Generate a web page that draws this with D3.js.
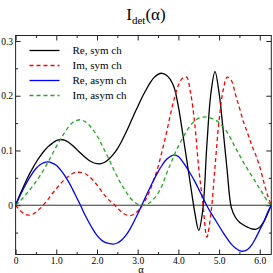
<!DOCTYPE html>
<html>
<head>
<meta charset="utf-8">
<script src="https://cdn.jsdelivr.net/npm/d3@7"></script>
<style>
  body { margin: 0; background: #fff; }
  svg { display: block; }
  svg text { font-family: "Liberation Serif", "DejaVu Serif", serif !important; }
</style>
</head>
<body>
<svg id="chart" width="273" height="273"></svg>
<script>
// alpha grid (0 .. 2*pi)
var alpha = [0, 0.1, 0.2, 0.3, 0.4, 0.5, 0.6, 0.7, 0.8, 0.9,
  1.0, 1.1, 1.2, 1.3, 1.4, 1.5, 1.6, 1.7, 1.8, 1.9,
  2.0, 2.1, 2.2, 2.3, 2.4, 2.5, 2.6, 2.7, 2.8, 2.9,
  3.0, 3.1, 3.2, 3.3, 3.4, 3.5, 3.6, 3.7, 3.8, 3.9,
  4.0, 4.1, 4.2, 4.3, 4.4, 4.5, 4.6, 4.7, 4.8, 4.9,
  5.0, 5.1, 5.2, 5.3, 5.4, 5.5, 5.6, 5.7, 5.8, 5.9,
  6.0, 6.1, 6.2, 6.283];

var reSym = [0, 0.018, 0.035, 0.051, 0.065, 0.078, 0.089, 0.099, 0.107, 0.113,
  0.118, 0.12, 0.119, 0.115, 0.109, 0.102, 0.095, 0.088, 0.082, 0.078,
  0.076, 0.076, 0.079, 0.085, 0.093, 0.103, 0.116, 0.131, 0.147, 0.164,
  0.18, 0.196, 0.21, 0.223, 0.233, 0.239, 0.241, 0.238, 0.23, 0.214,
  0.18, 0.134, 0.085, 0.036, -0.012, -0.046, -0.008, 0.11, 0.205, 0.244,
  0.205, 0.137, 0.062, -0.004, -0.022, -0.031, -0.036, -0.04, -0.043, -0.044,
  -0.04, -0.03, -0.014, 0];

var imSym = [0, -0.009, -0.015, -0.018, -0.017, -0.013, -0.006, 0.002, 0.011, 0.021,
  0.03, 0.039, 0.047, 0.053, 0.058, 0.06, 0.06, 0.058, 0.053, 0.046,
  0.037, 0.027, 0.017, 0.009, 0.003, -0.005, -0.012, -0.017, -0.019, -0.017,
  -0.011, -0.002, 0.011, 0.027, 0.047, 0.07, 0.099, 0.13, 0.164, 0.195,
  0.219, 0.232, 0.234, 0.205, 0.15, 0.068, 0.005, -0.058, -0.015, 0.07,
  0.155, 0.21, 0.234, 0.228, 0.203, 0.178, 0.152, 0.132, 0.11, 0.092,
  0.07, 0.042, 0.016, 0];

var reAsym = [0, 0.016, 0.031, 0.045, 0.057, 0.067, 0.074, 0.078, 0.079, 0.077,
  0.073, 0.065, 0.055, 0.043, 0.029, 0.014, -0.001, -0.017, -0.031, -0.044,
  -0.055, -0.063, -0.068, -0.07, -0.071, -0.069, -0.064, -0.056, -0.045, -0.031,
  -0.016, 0, 0.016, 0.032, 0.047, 0.061, 0.073, 0.083, 0.089, 0.092,
  0.089, 0.08, 0.069, 0.057, 0.044, 0.029, 0.014, -0.001, -0.014, -0.026,
  -0.038, -0.05, -0.061, -0.071, -0.078, -0.083, -0.084, -0.081, -0.073, -0.06,
  -0.045, -0.03, -0.012, 0];

var imAsym = [0, 0.007, 0.015, 0.024, 0.033, 0.043, 0.054, 0.066, 0.079, 0.093,
  0.107, 0.12, 0.132, 0.143, 0.151, 0.155, 0.156, 0.153, 0.147, 0.138,
  0.127, 0.113, 0.098, 0.083, 0.067, 0.052, 0.038, 0.026, 0.015, 0.007,
  0.002, 0, 0.001, 0.005, 0.012, 0.022, 0.036, 0.056, 0.074, 0.092,
  0.108, 0.122, 0.135, 0.146, 0.154, 0.159, 0.161, 0.161, 0.159, 0.156,
  0.151, 0.143, 0.133, 0.12, 0.105, 0.092, 0.078, 0.066, 0.054, 0.042,
  0.03, 0.018, 0.006, 0];

var seriesNames = ['Re, sym ch', 'Im, sym ch', 'Re, asym ch', 'Im, asym ch'];
var seriesColors = ['#000000', '#ff0000', '#0000ff', '#22a822'];
var seriesDash = [null, '4,3', null, '4,3'];

var xMajor = [0, 1, 2, 3, 4, 5, 6],
  xMinor = [0.5, 1.5, 2.5, 3.5, 4.5, 5.5],
  yMajor = [0, 0.1, 0.2, 0.3],
  yMinor = [-0.05, 0.05, 0.15, 0.25];

var svg = d3.select('#chart');

var x = d3.scaleLinear().domain([0, 2 * Math.PI]).range([15.6, 271.3]),
  y = d3.scaleLinear().domain([-0.09, 0.31]).range([254.5, 35.5]);

var fmt = function(d) { return d === 0 ? '0' : d3.format('.1f')(d); };

// axes with inward ticks on every side
function ticks(axis, tr, vals, size, labels) {
  var g = svg.append('g')
    .attr('transform', tr)
    .call(axis.tickValues(vals).tickSize(-size).tickPadding(labels ? 2.5 : 0)
      .tickFormat(labels ? fmt : ''));
  g.attr('font-family', '"Liberation Serif", serif').attr('font-size', 9.5);
  g.select('.domain').remove();
  g.selectAll('line').attr('stroke', '#222');
  g.selectAll('text').attr('fill', '#000');
  return g;
}

var b = y.range()[0], t = y.range()[1], l = x.range()[0], r = x.range()[1];
ticks(d3.axisBottom(x), 'translate(0,' + b + ')', xMajor, 5, true);
ticks(d3.axisBottom(x), 'translate(0,' + b + ')', xMinor, 2.5, false);
ticks(d3.axisTop(x), 'translate(0,' + t + ')', xMajor, 5, false);
ticks(d3.axisTop(x), 'translate(0,' + t + ')', xMinor, 2.5, false);
var gl = ticks(d3.axisLeft(y), 'translate(' + l + ',0)', yMajor, 5, true);
gl.selectAll('text').attr('x', -2.5);
ticks(d3.axisLeft(y), 'translate(' + l + ',0)', yMinor, 2.5, false);
ticks(d3.axisRight(y), 'translate(' + r + ',0)', yMajor, 5, false);
ticks(d3.axisRight(y), 'translate(' + r + ',0)', yMinor, 2.5, false);

// zero line
svg.append('line')
  .attr('x1', l).attr('x2', r)
  .attr('y1', y(0)).attr('y2', y(0))
  .attr('stroke', '#333').attr('stroke-width', 1);

svg.append('clipPath').attr('id', 'clip')
  .append('rect').attr('x', l).attr('y', t).attr('width', r - l).attr('height', b - t);

var line = d3.line()
  .x(function(d) { return x(d[0]); })
  .y(function(d) { return y(d[1]); })
  .curve(d3.curveCatmullRom.alpha(0.5));

var allSeries = [reSym, imSym, reAsym, imAsym];

svg.append('g').attr('clip-path', 'url(#clip)')
  .selectAll('path')
  .data(allSeries)
  .enter()
  .append('path')
  .attr('d', function(s) { return line(alpha.map(function(a, i) { return [a, s[i]]; })); })
  .attr('fill', 'none')
  .attr('stroke', function(d, i) { return seriesColors[i]; })
  .attr('stroke-width', 1.3)
  .attr('stroke-dasharray', function(d, i) { return seriesDash[i]; });

// frame
svg.append('rect')
  .attr('x', l).attr('y', t)
  .attr('width', r - l).attr('height', b - t)
  .attr('fill', 'none').attr('stroke', '#222').attr('stroke-width', 1);

// legend
var leg = svg.append('g').selectAll('g')
  .data(seriesNames)
  .enter()
  .append('g')
  .attr('transform', function(d, i) { return 'translate(0,' + (50.5 + i * 15) + ')'; });

leg.append('line')
  .attr('x1', 29.5).attr('x2', 59.5)
  .attr('stroke', function(d, i) { return seriesColors[i]; })
  .attr('stroke-width', 1.3)
  .attr('stroke-dasharray', function(d, i) { return seriesDash[i]; });

leg.append('text')
  .attr('x', 72.5).attr('dy', '0.35em')
  .attr('font-size', '11px')
  .text(function(d) { return d; });

// title
var title = svg.append('text')
  .attr('x', 146).attr('y', 20)
  .attr('text-anchor', 'middle')
  .attr('font-size', '17px');
title.append('tspan').text('I');
title.append('tspan').attr('font-size', '11px').attr('dy', 4).text('det');
title.append('tspan').attr('dy', -4).text('(α)');

// x label
svg.append('text')
  .attr('x', 141).attr('y', 272.5)
  .attr('text-anchor', 'middle')
  .attr('font-size', '10.5px')
  .text('α');
</script>
</body>
</html>
